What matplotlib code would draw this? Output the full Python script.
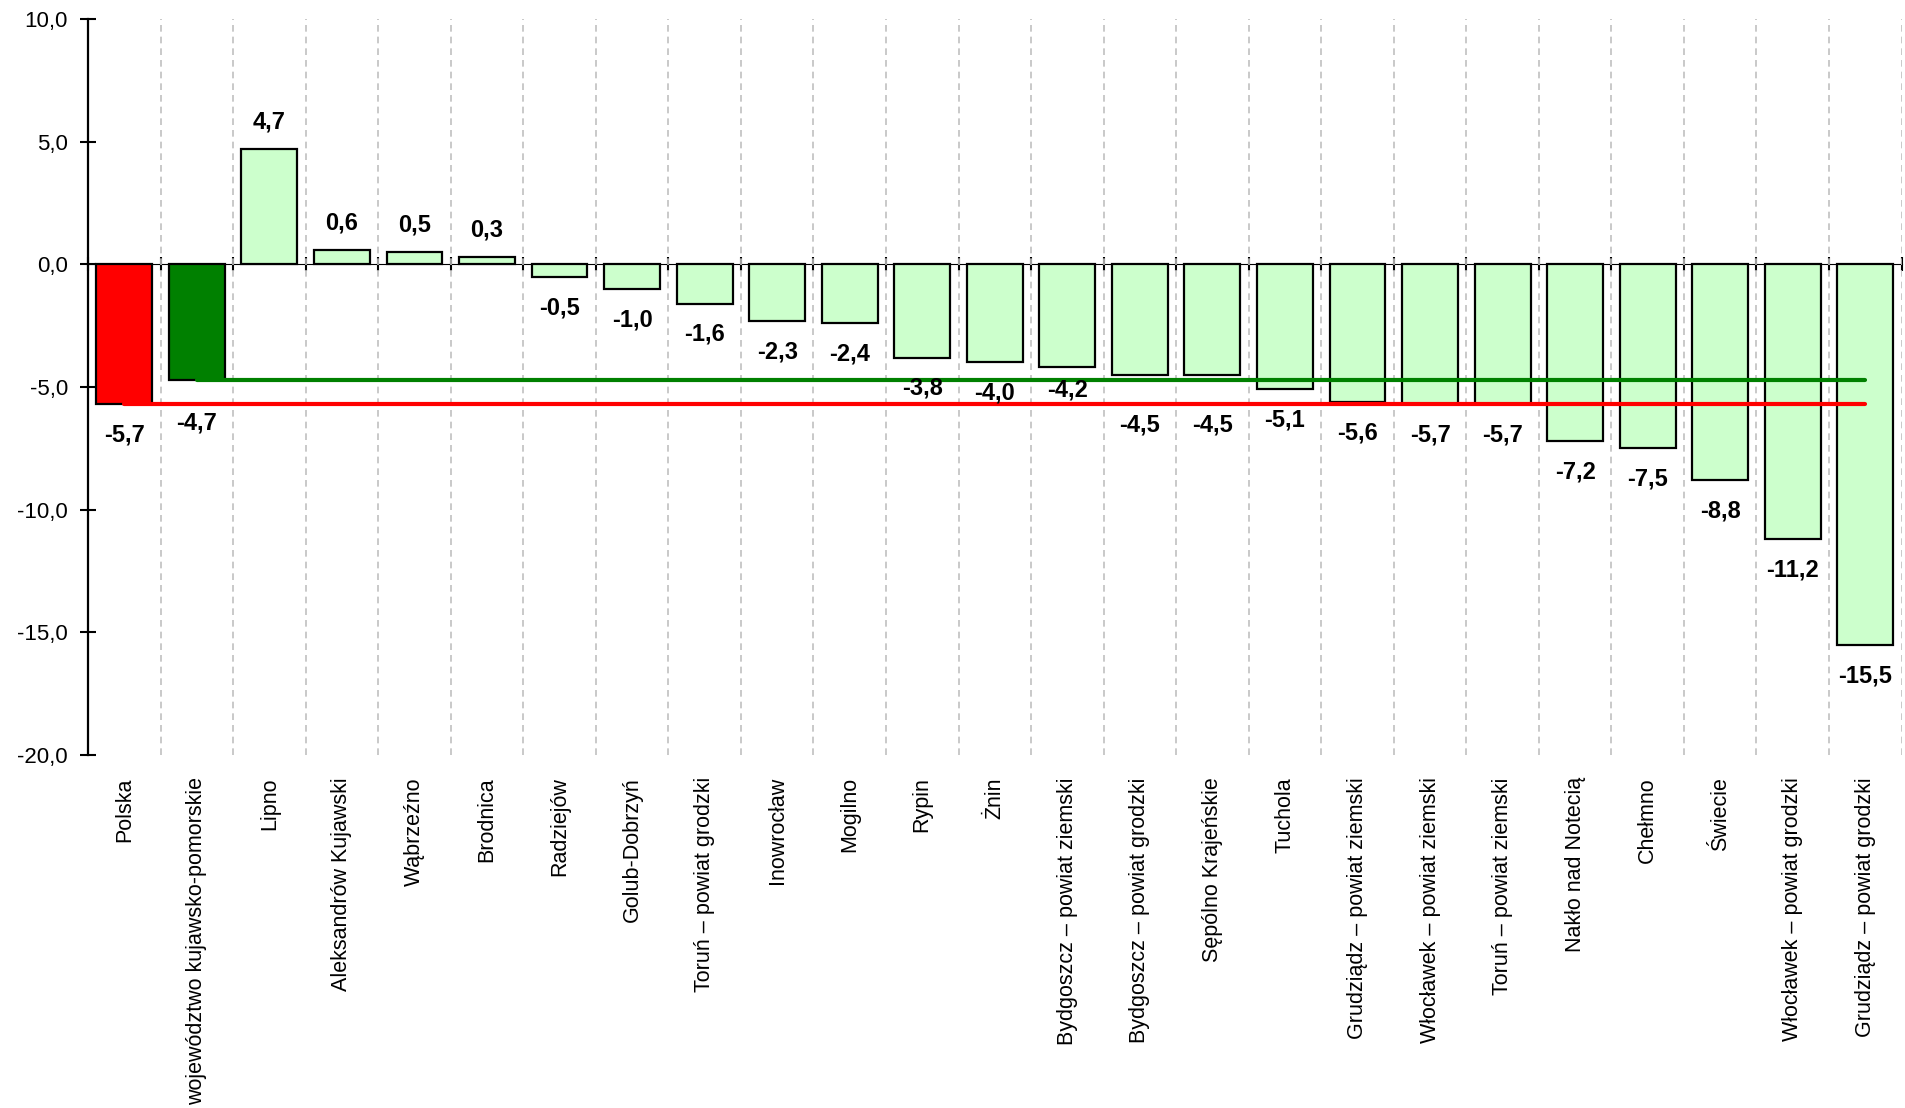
import numpy as np
import matplotlib.pyplot as plt
from matplotlib.ticker import FuncFormatter

plt.rcParams['font.family'] = ['Liberation Sans', 'DejaVu Sans']

# --- data ---
categories = ['Polska', 'województwo kujawsko-pomorskie', 'Lipno', 'Aleksandrów Kujawski',
              'Wąbrzeźno', 'Brodnica', 'Radziejów', 'Golub-Dobrzyń', 'Toruń – powiat grodzki',
              'Inowrocław', 'Mogilno', 'Rypin', 'Żnin', 'Bydgoszcz – powiat ziemski',
              'Bydgoszcz – powiat grodzki', 'Sępólno Krajeńskie', 'Tuchola',
              'Grudziądz – powiat ziemski', 'Włocławek – powiat ziemski', 'Toruń – powiat ziemski',
              'Nakło nad Notecią', 'Chełmno', 'Świecie', 'Włocławek – powiat grodzki',
              'Grudziądz – powiat grodzki']
values = [-5.7, -4.7, 4.7, 0.6, 0.5, 0.3, -0.5, -1.0, -1.6, -2.3, -2.4, -3.8, -4.0, -4.2,
          -4.5, -4.5, -5.1, -5.6, -5.7, -5.7, -7.2, -7.5, -8.8, -11.2, -15.5]
poland_value = -5.7
region_value = -4.7
y_ticks = [10, 5, 0, -5, -10, -15, -20]

bar_colors = ['#ff0000', '#008000'] + ['#ccffcc'] * (len(values) - 2)

# labels that were moved by hand in the original so they don't sit on the lines (points)
label_nudge = {1: -9, 13: 6, 14: -14, 15: -14}

ymin, ymax = -20, 10
x = np.arange(len(categories))

fig = plt.figure(figsize=(19.05, 11.08), dpi=100)
ax = fig.add_axes([0.0462, 0.3186, 0.952, 0.6643])

# vertical dashed separators between categories
bounds = np.arange(len(categories)) + 0.5
ax.set_xticks(bounds, minor=True)
ax.grid(True, which='minor', axis='x', linestyle=(0, (4, 3)), color='#c0c0c0', linewidth=1.2)
ax.tick_params(axis='x', which='minor', length=0)

ax.bar(x, values, width=0.77, color=bar_colors, edgecolor='black', linewidth=1.6, zorder=2)

# national and regional average lines
ax.plot([x[0], x[-1]], [poland_value, poland_value], color='#ff0000', linewidth=3,
        solid_capstyle='round', zorder=3)
ax.plot([x[1], x[-1]], [region_value, region_value], color='#008000', linewidth=3,
        solid_capstyle='round', zorder=3)

# value labels
for i, (xi, v) in enumerate(zip(x, values)):
    lbl = ('%.1f' % v).replace('.', ',')
    if v >= 0:
        ax.annotate(lbl, (xi, v), xytext=(0, 11), textcoords='offset points',
                    ha='center', va='bottom', fontsize=17, fontweight='bold', zorder=4)
    else:
        dy = -14 + label_nudge.get(i, 0)
        ax.annotate(lbl, (xi, v), xytext=(0, dy), textcoords='offset points',
                    ha='center', va='top', fontsize=17, fontweight='bold', zorder=4)

ax.set_xlim(-0.5, len(categories) - 0.5)
ax.set_ylim(ymin, ymax)

# category labels along the bottom
ax.set_xticks(x)
ax.set_xticklabels(categories, rotation=90, fontsize=15.5)
ax.tick_params(axis='x', which='major', length=0, pad=16)

# y axis
ax.set_yticks(y_ticks)
ax.yaxis.set_major_formatter(FuncFormatter(lambda v, p: ('%.1f' % v).replace('.', ',')))
ax.tick_params(axis='y', direction='inout', length=11, width=1.5, labelsize=16, pad=9)

for s in ['top', 'right', 'bottom']:
    ax.spines[s].set_visible(False)
ax.spines['left'].set_linewidth(1.6)

# zero line with tick marks at category boundaries
zero_ax = ax.secondary_xaxis((0 - ymin) / (ymax - ymin))
zero_ax.set_xticks(np.arange(len(categories) + 1) - 0.5)
zero_ax.set_xticklabels([])
zero_ax.tick_params(direction='inout', length=10, width=1.5)
zero_ax.spines['bottom'].set_linewidth(1.6)

fig.savefig('out.png', dpi=100)
